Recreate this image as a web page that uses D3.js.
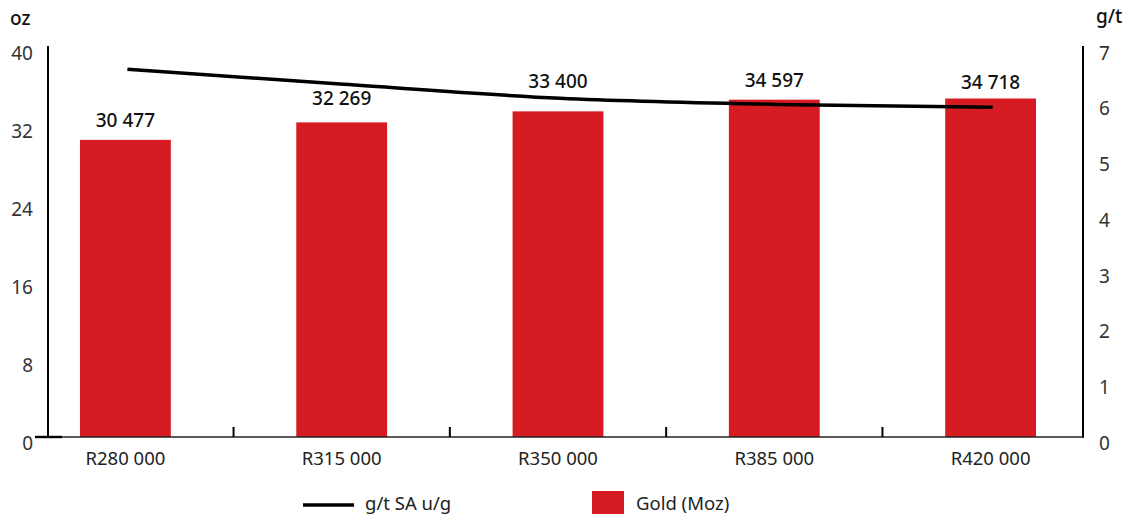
<!DOCTYPE html>
<html><head><meta charset="utf-8">
<script src="https://cdn.jsdelivr.net/npm/d3@7"></script>
<style>body{margin:0;background:#fff}svg{display:block}text{font-family:"Noto Sans",sans-serif}</style>
</head><body><svg id="c" width="1131" height="517"></svg>
<script>
const categories = ["R280 000","R315 000","R350 000","R385 000","R420 000"];
const goldValues = [30.477, 32.269, 33.400, 34.597, 34.718];
const goldLabels = ["30 477","32 269","33 400","34 597","34 718"];
const gradeValues = [6.60, 6.33, 6.08, 5.97, 5.92];
const leftTicks = [0, 8, 16, 24, 32, 40];
const rightTicks = [0, 1, 2, 3, 4, 5, 6, 7];
const legendLine = "g/t SA u/g";
const legendBar = "Gold (Moz)";

const RED = "#d71b22";
const svg = d3.select("#c");
const x = d3.scaleBand().domain(categories).range([17.25, 1098.75]).paddingInner(0.58).paddingOuter(0.29);
const yL = d3.scaleLinear().domain([0, 40]).range([437, 47]);
const yR = d3.scaleLinear().domain([0, 7]).range([437, 47]);
const cx = d => x(d) + x.bandwidth() / 2;

// bars
svg.selectAll("rect.bar").data(categories).enter().append("rect")
  .attr("x", d => x(d)).attr("width", x.bandwidth())
  .attr("y", (d, i) => yL(goldValues[i])).attr("height", (d, i) => yL(0) - yL(goldValues[i]))
  .attr("fill", RED);

// axes lines
svg.append("line").attr("x1", 48).attr("x2", 48).attr("y1", 46).attr("y2", 437).attr("stroke", "#000").attr("stroke-width", 2);
svg.append("line").attr("x1", 1083).attr("x2", 1083).attr("y1", 46).attr("y2", 438).attr("stroke", "#000").attr("stroke-width", 2);
svg.append("line").attr("x1", 35).attr("x2", 1084).attr("y1", 437).attr("y2", 437).attr("stroke", "#222").attr("stroke-width", 1.6);
svg.append("line").attr("x1", 35).attr("x2", 62).attr("y1", 437).attr("y2", 437).attr("stroke", "#000").attr("stroke-width", 2.4);
// category boundary ticks
const step = x.step();
svg.selectAll("line.ct").data(categories.slice(1)).enter().append("line")
  .attr("x1", d => x(d) - step * x.paddingInner() / 2).attr("x2", d => x(d) - step * x.paddingInner() / 2)
  .attr("y1", 427).attr("y2", 437).attr("stroke", "#000").attr("stroke-width", 2);

// tick labels
svg.selectAll("text.lt").data(leftTicks).enter().append("text")
  .attr("x", 33).attr("y", d => yL(d) + 6).attr("dy", "0.35em").attr("text-anchor", "end")
  .attr("font-size", 19).attr("fill", "#333").text(d => d);
svg.selectAll("text.rt").data(rightTicks).enter().append("text")
  .attr("x", 1099).attr("y", d => yR(d) + 6).attr("dy", "0.35em").attr("text-anchor", "start")
  .attr("font-size", 19).attr("fill", "#333").text(d => d);
svg.append("text").attr("x", 10).attr("y", 25).attr("font-size", 19).attr("font-weight", 500).attr("fill", "#111").text("oz");
svg.append("text").attr("x", 1096).attr("y", 23).attr("font-size", 19).attr("font-weight", 500).attr("fill", "#111").text("g/t");

// category labels
svg.selectAll("text.cat").data(categories).enter().append("text")
  .attr("x", d => cx(d)).attr("y", 465).attr("text-anchor", "middle")
  .attr("font-size", 18.5).attr("fill", "#222").text(d => d);

// line
const line = d3.line().x((d, i) => cx(categories[i]) + 2).y(d => yR(d)).curve(d3.curveMonotoneX);
svg.append("path").datum(gradeValues).attr("d", line).attr("fill", "none").attr("stroke", "#000").attr("stroke-width", 3.5);

// value labels
const labelGap = [13, 17, 23, 13, 9];
svg.selectAll("text.val").data(categories).enter().append("text")
  .attr("x", d => cx(d)).attr("y", (d, i) => yL(goldValues[i]) - labelGap[i])
  .attr("text-anchor", "middle").attr("font-size", 19).attr("font-weight", 500).attr("fill", "#111")
  .text((d, i) => goldLabels[i]);

// legend
svg.append("line").attr("x1", 303).attr("x2", 354).attr("y1", 505).attr("y2", 505).attr("stroke", "#000").attr("stroke-width", 3.5);
svg.append("text").attr("x", 365).attr("y", 510).attr("font-size", 18.5).attr("fill", "#222").text(legendLine);
svg.append("rect").attr("x", 592).attr("y", 491).attr("width", 32).attr("height", 23).attr("fill", RED);
svg.append("text").attr("x", 636).attr("y", 510).attr("font-size", 18.5).attr("fill", "#222").text(legendBar);
</script></body></html>
